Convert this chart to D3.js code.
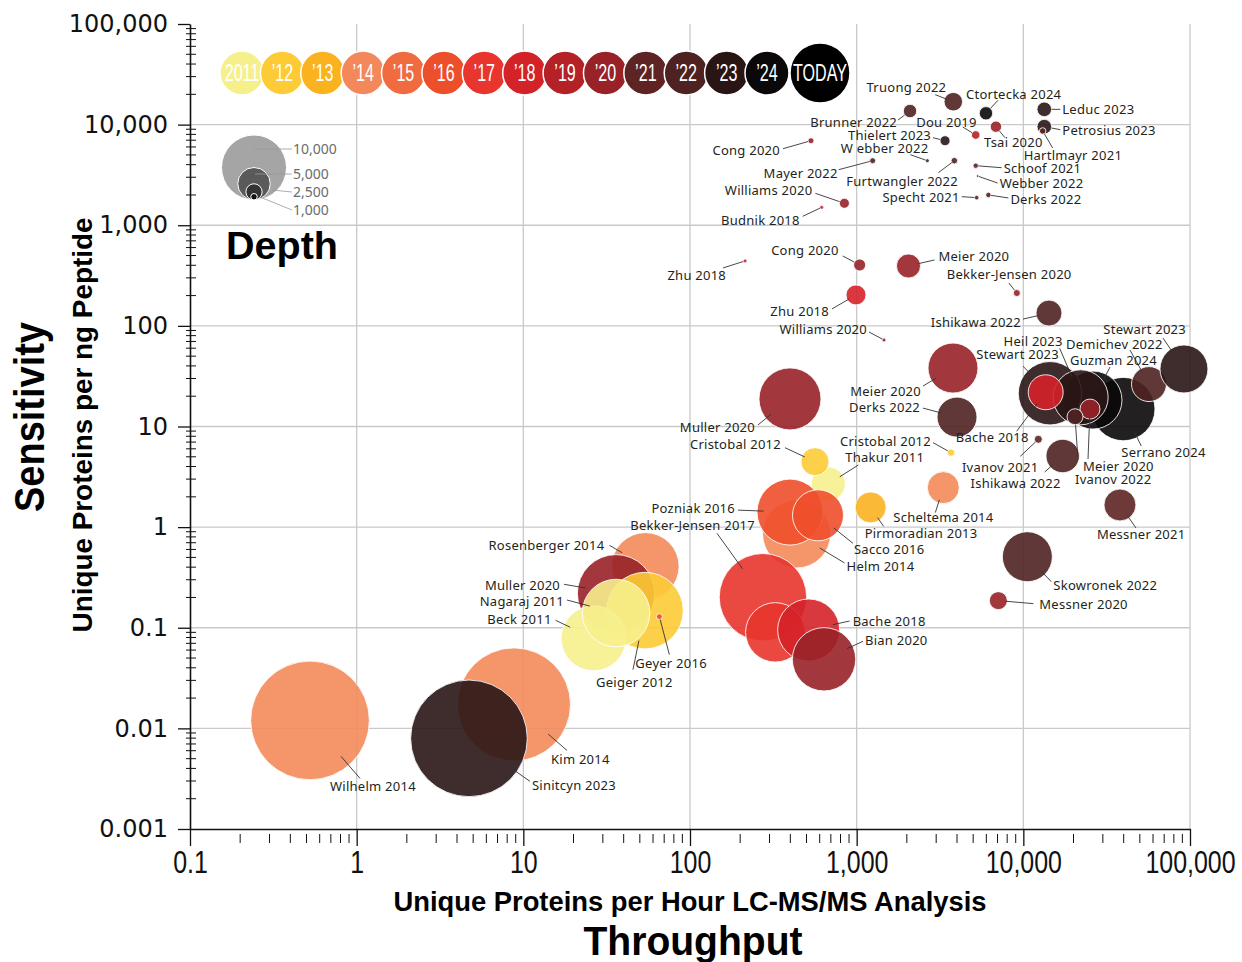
<!DOCTYPE html>
<html>
<head>
<meta charset="utf-8">
<script src="https://cdn.jsdelivr.net/npm/d3@7"></script>
<style>
  body { margin: 0; background: #fff; }
  svg { display: block; font-family: "Noto Sans", sans-serif; }
</style>
</head>
<body>
<svg id="chart" width="1242" height="962"></svg>
<script>
// ---- data ----
const names = [
  'Truong 2022', 'Ctortecka 2024', 'Leduc 2023', 'Petrosius 2023', 'Hartlmayr 2021', 'Tsai 2020',
  'Dou 2019', 'Thielert 2023', 'Brunner 2022', 'Cong 2020', 'W ebber 2022', 'Mayer 2022',
  'Furtwangler 2022', 'Schoof 2021', 'Webber 2022', 'Specht 2021', 'Derks 2022', 'Williams 2020',
  'Budnik 2018', 'Zhu 2018', 'Cong 2020', 'Meier 2020', 'Bekker-Jensen 2020', 'Zhu 2018',
  'Williams 2020', 'Ishikawa 2022', 'Muller 2020', 'Meier 2020', 'Derks 2022',
  'Serrano 2024', 'Guzman 2024', 'Stewart 2023', 'Heil 2023', 'Bache 2018', 'Demichev 2022',
  'Stewart 2023', 'Meier 2020', 'Ivanov 2022', 'Ivanov 2021', 'Ishikawa 2022', 'Messner 2021',
  'Skowronek 2022', 'Messner 2020', 'Cristobal 2012', 'Scheltema 2014', 'Pirmoradian 2013',
  'Thakur 2011', 'Cristobal 2012', 'Helm 2014', 'Pozniak 2016', 'Sacco 2016',
  'Bekker-Jensen 2017', '', 'Bache 2018', 'Bian 2020',
  'Rosenberger 2014', 'Muller 2020', 'Geiger 2012', 'Beck 2011', 'Nagaraj 2011', 'Geyer 2016',
  'Wilhelm 2014', 'Kim 2014', 'Sinitcyn 2023'
];
const years = [
  2022, 2024, 2023, 2023, 2021, 2020,
  2019, 2023, 2022, 2020, 2022, 2022,
  2022, 2021, 2022, 2021, 2022, 2020,
  2018, 2018, 2020, 2020, 2020, 2018,
  2020, 2022, 2020, 2020, 2022,
  2024, 2024, 2023, 2023, 2018, 2022,
  2023, 2020, 2022, 2021, 2022, 2021,
  2022, 2020, 2012, 2014, 2013,
  2011, 2012, 2014, 2016, 2016,
  2017, 2017, 2018, 2020,
  2014, 2020, 2012, 2011, 2011, 2016,
  2014, 2014, 2023
];
// unique proteins per hour
const throughput = [
  3800, 5970, 13360, 13360, 13060, 6850,
  5180, 3390, 2090, 532, 2655, 1247,
  3855, 5180, 5320, 5250, 6170, 844,
  617, 214, 1042, 2046, 9140, 991,
  1459, 14250, 398, 3784, 4000,
  39800, 26180, 14450, 22080, 13620, 56750,
  92000, 25120, 20420, 12300, 17220, 38000,
  10570, 7080, 3680, 3310, 1213,
  676, 562, 436, 398, 586,
  274, 325, 515, 637,
  54.0, 36.0, 53.7, 26.4, 36.0, 65.5,
  0.525, 8.79, 4.72
];
// unique proteins per ng peptide
const sensitivity = [
  16900, 12960, 14190, 9540, 8650, 9540,
  7890, 6920, 13650, 6920, 4380, 4380,
  4380, 3906, 3083, 1880, 2000, 1652,
  1507, 442, 403, 394, 212, 203,
  72.4, 134, 18.8, 38.1, 12.4,
  14.9, 18.3, 21.4, 19.5, 21.9, 26.4,
  37.3, 14.9, 12.5, 7.46, 5.09, 1.66,
  0.508, 0.186, 5.5, 2.47, 1.57,
  2.68, 4.47, 0.855, 1.41, 1.31,
  0.201, 0.090, 0.095, 0.0486,
  0.408, 0.220, 0.148, 0.0785, 0.140, 0.129,
  0.0120, 0.0173, 0.00796
];
// unique proteins (depth)
const depth = [
  2860, 2060, 2250, 2250, 1000, 1750,
  1320, 1540, 2060, 920, 615, 920,
  1000, 830, 400, 710, 830, 1540,
  615, 615, 1850, 3700, 1080, 3080,
  615, 4000, 9540, 7690, 6150,
  9750, 8920, 9750, 8460, 5380, 5380,
  7380, 3080, 2460, 1230, 5140, 4920,
  7690, 2770, 1140, 4920, 4770,
  5230, 4310, 10460, 10150, 7850,
  13450, 9140, 9540, 9750,
  10370, 11900, 11780, 10000, 10400, 920,
  18250, 17380, 17940
];

const timelineYears = [2011, 2012, 2013, 2014, 2015, 2016, 2017, 2018, 2019, 2020, 2021, 2022, 2023, 2024];
const timelineLabels = ['2011', '’12', '’13', '’14', '’15', '’16', '’17', '’18', '’19', '’20', '’21', '’22', '’23', '’24'];
const depthLegend = [10000, 5000, 2500, 1000];
const xTicks = [0.1, 1, 10, 100, 1000, 10000, 100000];
const yTicks = [0.001, 0.01, 0.1, 1, 10, 100, 1000, 10000, 100000];

// ---- style / layout ----
const yearColors = ['#f6f08c', '#fdcb35', '#fbb21f', '#f3895a', '#f06b3f', '#ee4f2b', '#e8352e',
  '#d42229', '#b42126', '#982228', '#5e2424', '#4f2222', '#2a1515', '#0a0808'];

// label placement, pixel offsets from bubble centre: [textX, textY, anchor, leaderX, leaderY]
const labelLayout = [
  [-7, -14, 'end', -18, -7], [-20, -19, 'start', 12, -13], [18, 0, 'start', 16, 0], [18, 4, 'start', 16, 3],
  [-19, 24, 'start', 10, 17], [-12, 16, 'start', 9, 11],
  [1, -13, 'end', -13, -8], [-14, -5, 'end', -12, -3], [-13, 11, 'end', -12, 9], [-31, 10, 'end', -28, 8],
  [1, -12, 'end', -17, -6], [-35, 13, 'end', -34, 9],
  [-108, 21, 'start', -16, 12], [28, 3, 'start', 26, 2], [22, 7, 'start', 20, 7], [-17, 0, 'end', -15, -1],
  [22, 4, 'start', 20, 3], [-32, -13, 'end', -29, -10],
  [-22, 13, 'end', -19, 9], [-19, 15, 'end', -22, 7], [-21, -15, 'end', -17, -9], [30, -10, 'start', 26, -6],
  [-70, -19, 'start', -8, -10], [-27, 17, 'end', -24, 14],
  [-17, -11, 'end', -15, -8], [-28, 9, 'end', -26, 6], [-35, 29, 'end', -32, 26], [-32, 23, 'end', -30, 18],
  [-37, -10, 'end', -34, -9],
  [-2, 43, 'start', 18, 37], [-23, -40, 'start', 17, -33], [9, -39, 'end', -27, -27], [-18, -56, 'end', -21, -49],
  [-17, 45, 'end', -29, 39], [-83, -40, 'start', -19, -34],
  [2, -40, 'end', -21, -31], [-7, 57, 'start', -2, 50], [0, 63, 'start', 3, 43], [0, 28, 'end', -18, 17],
  [-2, 27, 'end', -18, 16], [-23, 29, 'start', 16, 23],
  [26, 29, 'start', 24, 25], [41, 4, 'start', 35, 3], [-20, -11, 'end', -18, -10], [-50, 30, 'start', -8, 25],
  [-6, 26, 'start', 13, 19],
  [17, -27, 'start', 30, -19], [-34, -17, 'end', -30, -14], [50, 32, 'start', 48, 29], [-55, -4, 'end', -52, -2],
  [36, 34, 'start', 35, 28],
  [-8, -72, 'end', -46, -64], null, [44, -9, 'start', 41, -9], [41, -19, 'start', 39, -18],
  [-41, -21, 'end', -36, -21], [-56, -8, 'end', -52, -9], [-49, 72, 'start', -12, 59], [-42, -19, 'end', -38, -18],
  [-52, -12, 'end', -49, -13], [-24, 47, 'start', 10, 38],
  [20, 66, 'start', 50, 58], [37, 55, 'start', 53, 46], [63, 47, 'start', 61, 43]
];

const svg = d3.select('#chart');

const x = d3.scaleLog().domain([0.1, 100000]).range([190, 1190]);
const y = d3.scaleLog().domain([0.001, 100000]).range([829, 24]);
const r = d3.scaleLinear().domain([0, 10000]).range([0, 32.5]);
const color = d3.scaleOrdinal().domain(timelineYears).range(yearColors);

const minorTicks = (lo, hi) => d3.range(Math.round(Math.log10(lo)), Math.round(Math.log10(hi)))
  .flatMap(e => d3.range(2, 10).map(k => k * Math.pow(10, e)));

// grid
const grid = svg.append('g').attr('stroke', '#c9c9c9').attr('stroke-width', 1.3);
grid.selectAll('line.h').data(yTicks.slice(1, -1)).join('line').attr('class', 'h')
  .attr('x1', x(0.1)).attr('x2', x(100000))
  .attr('y1', d => y(d)).attr('y2', d => y(d));
grid.selectAll('line.v').data(xTicks.slice(1)).join('line').attr('class', 'v')
  .attr('x1', d => x(d)).attr('x2', d => x(d))
  .attr('y1', y(100000)).attr('y2', y(0.001));

// axes
const xAxis = svg.append('g').attr('transform', `translate(0,${y(0.001)})`)
  .call(d3.axisBottom(x).tickValues(xTicks).tickSize(17).tickSizeOuter(0).tickPadding(4).tickFormat(d3.format(',')));
xAxis.selectAll('text').attr('font-family', '"Liberation Sans", Arial, sans-serif').attr('font-size', 32)
  .attr('fill', '#111').attr('transform', 'scale(0.78,1)');
svg.append('g').attr('stroke', '#111').attr('stroke-width', 1)
  .selectAll('line').data(minorTicks(0.1, 100000)).join('line')
  .attr('x1', d => x(d)).attr('x2', d => x(d))
  .attr('y1', y(0.001) + 5).attr('y2', y(0.001) + 14);

const yAxis = svg.append('g').attr('transform', `translate(${x(0.1)},0)`)
  .call(d3.axisLeft(y).tickValues(yTicks).tickSize(12).tickSizeOuter(0).tickPadding(10).tickFormat(d3.format(',')));
yAxis.selectAll('text').attr('font-family', '"DejaVu Sans", sans-serif').attr('font-size', 24).attr('fill', '#111');
svg.append('g').attr('stroke', '#111').attr('stroke-width', 1)
  .selectAll('line').data(minorTicks(0.001, 100000)).join('line')
  .attr('x1', x(0.1) - 4).attr('x2', x(0.1) + 6)
  .attr('y1', d => y(d)).attr('y2', d => y(d));
[xAxis, yAxis].forEach(a => {
  a.select('.domain').attr('stroke', '#111').attr('stroke-width', 1.6);
  a.selectAll('.tick line').attr('stroke', '#111').attr('stroke-width', 1.3);
});

// axis titles
svg.append('text').attr('x', 690).attr('y', 911).attr('text-anchor', 'middle')
  .attr('font-family', '"Liberation Sans", Arial, sans-serif').attr('font-weight', 'bold').attr('font-size', 28)
  .attr('textLength', 593).attr('lengthAdjust', 'spacingAndGlyphs')
  .text('Unique Proteins per Hour LC-MS/MS Analysis');
svg.append('text').attr('x', 693).attr('y', 955).attr('text-anchor', 'middle')
  .attr('font-family', '"Liberation Sans", Arial, sans-serif').attr('font-weight', 'bold').attr('font-size', 40)
  .attr('textLength', 219).attr('lengthAdjust', 'spacingAndGlyphs')
  .text('Throughput');
svg.append('text').attr('transform', 'translate(44,417) rotate(-90)').attr('text-anchor', 'middle')
  .attr('font-family', '"Liberation Sans", Arial, sans-serif').attr('font-weight', 'bold').attr('font-size', 42)
  .attr('textLength', 190).attr('lengthAdjust', 'spacingAndGlyphs')
  .text('Sensitivity');
svg.append('text').attr('transform', 'translate(92,425) rotate(-90)').attr('text-anchor', 'middle')
  .attr('font-family', '"Liberation Sans", Arial, sans-serif').attr('font-weight', 'bold').attr('font-size', 28)
  .attr('textLength', 415).attr('lengthAdjust', 'spacingAndGlyphs')
  .text('Unique Proteins per ng Peptide');

// timeline legend
const tx = d3.scaleLinear().domain([0, timelineYears.length - 1]).range([242, 767]);
const tl = svg.append('g');
const tlItems = timelineYears.map((yr, i) => ({ cx: tx(i), rad: 22, fill: color(yr), label: timelineLabels[i] }))
  .concat([{ cx: tx(timelineYears.length - 1) + 53, rad: 30, fill: '#000', label: 'TODAY' }]);
const tlg = tl.selectAll('g').data(tlItems).join('g').attr('transform', d => `translate(${d.cx},73)`);
tlg.append('circle').attr('r', d => d.rad).attr('fill', d => d.fill).attr('stroke', '#fff').attr('stroke-width', 1.5);
tlg.append('text').attr('text-anchor', 'middle').attr('dy', '0.36em').attr('fill', '#fff')
  .attr('font-family', '"Liberation Sans", Arial, sans-serif').attr('font-size', 23)
  .attr('transform', 'scale(0.7,1)').text(d => d.label);

// depth legend
const dl = svg.append('g');
const dlFill = ['#a5a5a5', '#5a5a5a', '#333', '#111'];
dl.selectAll('circle').data(depthLegend).join('circle')
  .attr('cx', 254).attr('cy', d => 200 - r(d)).attr('r', d => r(d))
  .attr('fill', (d, i) => dlFill[i]).attr('stroke', '#fff').attr('stroke-width', 1);
const dlLabelY = [149, 174, 192, 210];
const dlLeaderFrom = [[254, 149], [255, 174], [272, 190], [260, 197]];
dl.selectAll('line').data(depthLegend).join('line')
  .attr('x1', (d, i) => dlLeaderFrom[i][0]).attr('y1', (d, i) => dlLeaderFrom[i][1])
  .attr('x2', 292).attr('y2', (d, i) => dlLabelY[i])
  .attr('stroke', '#999').attr('stroke-width', 0.8);
dl.selectAll('text').data(depthLegend).join('text')
  .attr('x', 293).attr('y', (d, i) => dlLabelY[i]).attr('dy', '0.35em')
  .attr('font-size', 14).attr('fill', '#6b6b6b').text(d => d3.format(',')(d));
svg.append('text').attr('x', 226).attr('y', 259)
  .attr('font-family', '"Liberation Sans", Arial, sans-serif').attr('font-weight', 'bold').attr('font-size', 38)
  .attr('textLength', 112).attr('lengthAdjust', 'spacingAndGlyphs').text('Depth');

// bubbles
const rows = names.map((n, i) => ({
  name: n, year: years[i], cx: x(throughput[i]), cy: y(sensitivity[i]), rad: r(depth[i]), lab: labelLayout[i]
}));
svg.append('g').selectAll('circle').data(rows).join('circle')
  .attr('cx', d => d.cx).attr('cy', d => d.cy).attr('r', d => d.rad)
  .attr('fill', d => color(d.year)).attr('fill-opacity', 0.9)
  .attr('stroke', '#fff').attr('stroke-opacity', 0.85).attr('stroke-width', 1);

// leaders and labels
const labelled = rows.filter(d => d.lab);
svg.append('g').attr('stroke', '#333').attr('stroke-width', 0.9)
  .selectAll('line').data(labelled).join('line')
  .each(function (d) {
    const ax = d.cx + d.lab[3], ay = d.cy + d.lab[4];
    const dist = Math.hypot(d.lab[3], d.lab[4]);
    const stop = d.rad > 8 ? d.rad * 0.8 : d.rad;
    const k = Math.min(stop, dist) / dist;
    d3.select(this).attr('x1', ax).attr('y1', ay)
      .attr('x2', d.cx + d.lab[3] * k).attr('y2', d.cy + d.lab[4] * k);
  });
svg.append('g').selectAll('text').data(labelled).join('text')
  .attr('x', d => d.cx + d.lab[0]).attr('y', d => d.cy + d.lab[1]).attr('dy', '0.35em')
  .attr('text-anchor', d => d.lab[2])
  .attr('font-size', 13).attr('letter-spacing', 0.25).attr('fill', '#231f20')
  .text(d => d.name);
</script>
</body>
</html>
